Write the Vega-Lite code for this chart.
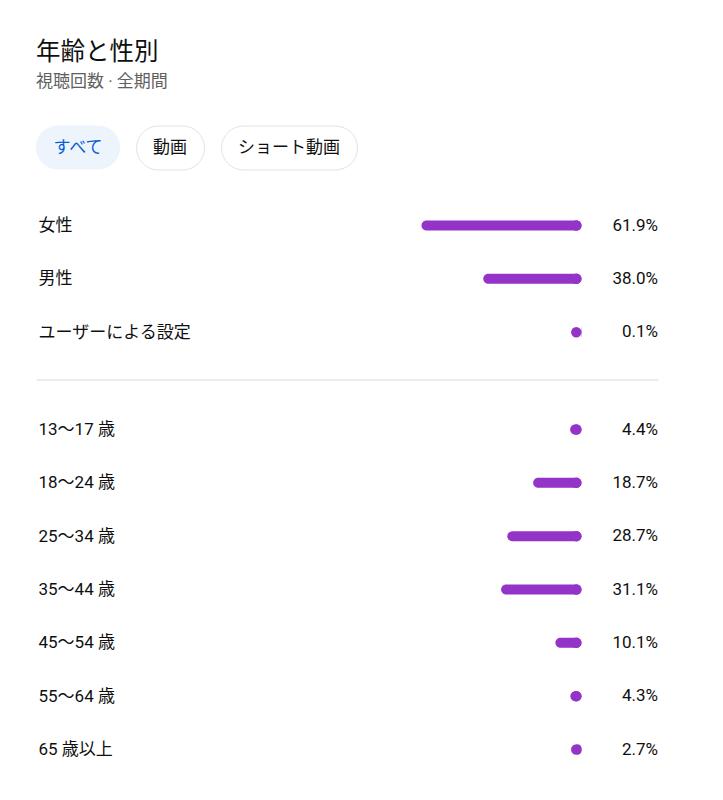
{
  "$schema": "https://vega.github.io/schema/vega-lite/v6.json",
  "background": "white",
  "padding": {"left": 36, "top": 39.5, "right": 10, "bottom": 10},
  "title": {
    "text": "年齢と性別",
    "subtitle": "視聴回数 · 全期間",
    "anchor": "start",
    "frame": "group",
    "fontSize": 24.5,
    "fontWeight": "normal",
    "color": "#0f0f0f",
    "subtitleFontSize": 17,
    "subtitleColor": "#606060",
    "subtitlePadding": 9,
    "offset": 34
  },
  "config": {
    "font": "Roboto, 'Noto Sans CJK JP'",
    "view": {"stroke": null},
    "axisY": {
      "domain": false, "ticks": false, "tickSize": 0, "grid": false, "title": null,
      "labelAlign": "left", "labelPadding": -2, "labelFontSize": 17, "labelColor": "#0f0f0f",
      "labelLimit": 400, "labelFont": "Roboto, 'Noto Sans CJK JP'"
    }
  },
  "spacing": 18,
  "vconcat": [
    {
      "spacing": 15,
      "hconcat": [
        {
          "width": 84, "height": 44,
          "view": {"fill": "#eef4fc", "stroke": null, "cornerRadius": 22},
          "data": {"values": [{"label": "すべて"}]},
          "mark": {"type": "text", "fontSize": 17, "color": "#065fd4"},
          "encoding": {"text": {"field": "label"}}
        },
        {
          "width": 68, "height": 44,
          "view": {"fill": "white", "stroke": "#e3e3e3", "cornerRadius": 22},
          "data": {"values": [{"label": "動画"}]},
          "mark": {"type": "text", "fontSize": 17, "color": "#0f0f0f"},
          "encoding": {"text": {"field": "label"}}
        },
        {
          "width": 136, "height": 44,
          "view": {"fill": "white", "stroke": "#e3e3e3", "cornerRadius": 22},
          "data": {"values": [{"label": "ショート動画"}]},
          "mark": {"type": "text", "fontSize": 17, "color": "#0f0f0f"},
          "encoding": {"text": {"field": "label"}}
        }
      ]
    },
    {
      "width": 622, "height": 180.7,
      "data": {"values": [
        {"label": "女性", "share": 0.619},
        {"label": "男性", "share": 0.380},
        {"label": "ユーザーによる設定", "share": 0.001}
      ]},
      "encoding": {
        "y": {"field": "label", "type": "nominal", "sort": null, "scale": {"type": "point", "padding": 0.694}}
      },
      "layer": [
        {
          "mark": {"type": "bar", "height": 10, "cornerRadius": 5, "color": "#9333c7"},
          "encoding": {
            "x": {"field": "share", "type": "quantitative", "scale": {"domain": [-0.29594, 2.11025], "range": [622, 0], "nice": false, "zero": false},
                  "axis": {"orient": "bottom", "offset": 10.3, "domain": true, "domainColor": "#e5e5e5", "domainWidth": 1.5, "labels": false, "ticks": false, "grid": false, "title": null}},
            "x2": {"datum": 0}
          }
        },
        {
          "mark": {"type": "point", "filled": true, "opacity": 1, "size": 110, "color": "#9333c7", "xOffset": -5.2},
          "encoding": {"x": {"datum": 0, "type": "quantitative"}}
        },
        {
          "mark": {"type": "text", "align": "right", "dx": 76.5, "fontSize": 17, "color": "#0f0f0f"},
          "encoding": {"x": {"datum": 0, "type": "quantitative"}, "text": {"field": "share", "type": "quantitative", "format": ".1%"}}
        }
      ]
    },
    {
      "width": 622, "height": 384,
      "data": {"values": [
        {"label": "13〜17 歳", "share": 0.044},
        {"label": "18〜24 歳", "share": 0.187},
        {"label": "25〜34 歳", "share": 0.287},
        {"label": "35〜44 歳", "share": 0.311},
        {"label": "45〜54 歳", "share": 0.101},
        {"label": "55〜64 歳", "share": 0.043},
        {"label": "65 歳以上", "share": 0.027}
      ]},
      "encoding": {
        "y": {"field": "label", "type": "nominal", "sort": null, "scale": {"type": "point", "padding": 0.6}}
      },
      "layer": [
        {
          "mark": {"type": "bar", "height": 10, "cornerRadius": 5, "color": "#9333c7"},
          "encoding": {
            "x": {"field": "share", "type": "quantitative", "scale": {"domain": [-0.29594, 2.11025], "range": [622, 0], "nice": false, "zero": false}, "axis": null},
            "x2": {"datum": 0}
          }
        },
        {
          "mark": {"type": "point", "filled": true, "opacity": 1, "size": 110, "color": "#9333c7", "xOffset": -5.2},
          "encoding": {"x": {"datum": 0, "type": "quantitative"}}
        },
        {
          "mark": {"type": "text", "align": "right", "dx": 76.5, "fontSize": 17, "color": "#0f0f0f"},
          "encoding": {"x": {"datum": 0, "type": "quantitative"}, "text": {"field": "share", "type": "quantitative", "format": ".1%"}}
        }
      ]
    }
  ]
}
